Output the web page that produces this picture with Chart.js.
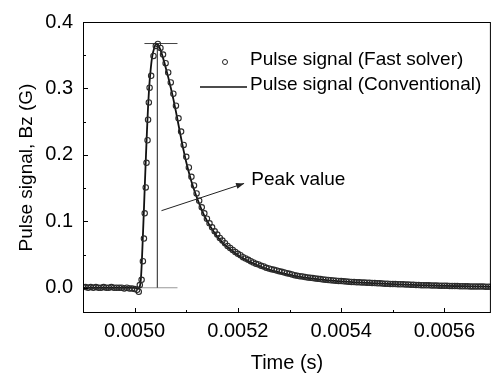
<!DOCTYPE html>
<html>
<head>
<meta charset="utf-8">
<script src="https://cdn.jsdelivr.net/npm/chart.js@4"></script>
<style>
  html, body { margin: 0; padding: 0; background: #fff; }
  canvas { display: block; }
</style>
</head>
<body>
<canvas id="chart" width="496" height="376"></canvas>
<script>
// Pulse signal Bz vs time, fast solver (circles) vs conventional (line)
// times are in microseconds, the x axis labels show seconds

const fastUs = [
  4900, 4905, 4910, 4915, 4920, 4925, 4930, 4935, 4940, 4945,
  4950, 4955, 4960, 4965, 4970, 4975, 4980, 4985, 4990, 4995,
  5000, 5005,
  5008, 5010, 5013.5, 5016, 5018, 5019.5, 5021.5, 5023, 5025, 5026,
  5027.5, 5029, 5032, 5036.5, 5041,
  5045, 5050, 5055, 5060, 5065, 5070, 5075, 5080, 5085, 5090,
  5095, 5100, 5105, 5110, 5115, 5120, 5125, 5130, 5135, 5140,
  5145, 5150, 5155, 5160, 5165, 5170, 5175, 5180, 5185, 5190,
  5195, 5200, 5205, 5210, 5215, 5220, 5225, 5230, 5235, 5240,
  5245, 5250, 5255, 5260, 5265, 5270, 5275, 5280, 5285, 5290,
  5295, 5300, 5305, 5310, 5315, 5320, 5325, 5330, 5335, 5340,
  5345, 5350, 5355, 5360, 5365, 5370, 5375, 5380, 5385, 5390,
  5395, 5400, 5405, 5410, 5415, 5420, 5425, 5430, 5435, 5440,
  5445, 5450, 5455, 5460, 5465, 5470, 5475, 5480, 5485, 5490,
  5495, 5500, 5505, 5510, 5515, 5520, 5525, 5530, 5535, 5540,
  5545, 5550, 5555, 5560, 5565, 5570, 5575, 5580, 5585, 5590,
  5595, 5600, 5605, 5610, 5615, 5620, 5625, 5630, 5635, 5640,
  5645, 5650, 5655, 5660, 5665, 5670, 5675, 5680, 5685, 5690
];
const fastBz = [
  0.001, 0.001, 0.000, 0.001, 0.000, 0.001, 0.000, 0.000, 0.001, 0.000,
  0.000, 0.001, 0.000, 0.000, 0.000, 0.000, -0.001, 0.000, -0.001, -0.001,
  -0.002, -0.003,
  -0.006, 0.004, 0.012, 0.040, 0.074, 0.112, 0.151, 0.188, 0.222, 0.253,
  0.279, 0.301, 0.319, 0.349, 0.364,
  0.367, 0.361, 0.351, 0.338, 0.324, 0.309, 0.292, 0.274, 0.255, 0.235,
  0.215, 0.197, 0.181, 0.167, 0.154, 0.142, 0.131, 0.121, 0.112, 0.104,
  0.097, 0.091, 0.085, 0.080, 0.075, 0.071, 0.067, 0.063, 0.060, 0.057,
  0.054, 0.051, 0.049, 0.046, 0.044, 0.042, 0.040, 0.038, 0.036, 0.035,
  0.033, 0.032, 0.030, 0.029, 0.028, 0.027, 0.026, 0.025, 0.024, 0.023,
  0.022, 0.021, 0.020, 0.019, 0.018, 0.0175, 0.017, 0.016, 0.0155, 0.015,
  0.0145, 0.014, 0.0135, 0.013, 0.0125, 0.0121, 0.0117, 0.0113, 0.0109, 0.0106,
  0.0103, 0.0100, 0.0097, 0.0094, 0.0091, 0.0088, 0.0086, 0.0084, 0.0082, 0.0080,
  0.0078, 0.0076, 0.0074, 0.0072, 0.0070, 0.0068, 0.0066, 0.0064, 0.0062, 0.0060,
  0.0058, 0.0056, 0.0055, 0.0054, 0.0053, 0.0052, 0.0050, 0.0048, 0.0046, 0.0044,
  0.0042, 0.0040, 0.0039, 0.0038, 0.0037, 0.0036, 0.0035, 0.0034, 0.0033, 0.0032,
  0.0031, 0.0030, 0.0029, 0.0028, 0.0027, 0.0026, 0.0025, 0.0024, 0.0023, 0.0022,
  0.0021, 0.0020, 0.0020, 0.0019, 0.0018, 0.0018, 0.0017, 0.0016, 0.0016, 0.0015
];

const convUs = [
  4900, 5000, 5008, 5010, 5012, 5014, 5016, 5018, 5020, 5022,
  5024, 5026, 5028, 5031, 5034, 5038, 5042, 5045, 5050, 5055,
  5060, 5065, 5070, 5075, 5080, 5085, 5090, 5095, 5100, 5105,
  5110, 5115, 5120, 5130, 5140, 5150, 5160, 5170, 5180, 5200,
  5220, 5250, 5280, 5310, 5350, 5400, 5450, 5500, 5550, 5600,
  5650, 5690
];
const convBz = [
  0.000, 0.000, -0.001, 0.002, 0.012, 0.040, 0.078, 0.118, 0.160, 0.200,
  0.238, 0.272, 0.300, 0.328, 0.348, 0.361, 0.367, 0.366, 0.358, 0.346,
  0.332, 0.317, 0.301, 0.284, 0.265, 0.245, 0.225, 0.206, 0.189, 0.174,
  0.160, 0.148, 0.137, 0.117, 0.101, 0.088, 0.077, 0.068, 0.061, 0.049,
  0.040, 0.030, 0.023, 0.018, 0.0135, 0.0095, 0.0072, 0.0054, 0.0039, 0.0029,
  0.0021, 0.0015
];

// peak marker lines
const peakUs = [5044, 5044];
const peakBz = [0.0, 0.3676];
const peakTopUs = [5019, 5083];
const peakTopBz = [0.3676, 0.3676];
const peakBaseUs = [5010, 5083];
const peakBaseBz = [0.0, 0.0];

// axes
const xTicks = [5000, 5200, 5400, 5600];
const xMinorTicks = [4900, 5100, 5300, 5500];
const yTicks = [0.0, 0.1, 0.2, 0.3, 0.4];
const yMinorTicks = [0.05, 0.15, 0.25, 0.35];

const FONT = "'Liberation Sans', Arial, sans-serif";

function pairs(xs, ys) {
  return xs.map((t, i) => ({ x: t, y: ys[i] }));
}

// frame, inward ticks, arrow note and in-plot legend
const decorPlugin = {
  id: 'decor',
  afterDraw(chart) {
    const { ctx, chartArea: a, scales: { x, y } } = chart;
    ctx.save();
    ctx.strokeStyle = '#000';
    ctx.lineWidth = 1;
    ctx.strokeRect(a.left + 0.5, a.top + 0.5, a.right - a.left - 1, a.bottom - a.top - 1);

    ctx.beginPath();
    xTicks.forEach(v => {
      const px = Math.round(x.getPixelForValue(v)) + 0.5;
      ctx.moveTo(px, a.bottom); ctx.lineTo(px, a.bottom - 5);
    });
    xMinorTicks.forEach(v => {
      const px = Math.round(x.getPixelForValue(v)) + 0.5;
      ctx.moveTo(px, a.bottom); ctx.lineTo(px, a.bottom - 3);
    });
    yTicks.forEach(v => {
      const py = Math.round(y.getPixelForValue(v)) + 0.5;
      ctx.moveTo(a.left, py); ctx.lineTo(a.left + 5, py);
    });
    yMinorTicks.forEach(v => {
      const py = Math.round(y.getPixelForValue(v)) + 0.5;
      ctx.moveTo(a.left, py); ctx.lineTo(a.left + 3, py);
    });
    ctx.stroke();

    // "Peak value" arrow
    const x0 = x.getPixelForValue(5052), y0 = y.getPixelForValue(0.116);
    const x1 = x.getPixelForValue(5212), y1 = y.getPixelForValue(0.157);
    ctx.strokeStyle = '#222';
    ctx.beginPath();
    ctx.moveTo(x0, y0); ctx.lineTo(x1, y1);
    ctx.stroke();
    const ang = Math.atan2(y1 - y0, x1 - x0);
    ctx.fillStyle = '#222';
    ctx.beginPath();
    ctx.moveTo(x1, y1);
    ctx.lineTo(x1 - 8 * Math.cos(ang) + 3 * Math.sin(ang), y1 - 8 * Math.sin(ang) - 3 * Math.cos(ang));
    ctx.lineTo(x1 - 8 * Math.cos(ang) - 3 * Math.sin(ang), y1 - 8 * Math.sin(ang) + 3 * Math.cos(ang));
    ctx.closePath();
    ctx.fill();
    ctx.fillStyle = '#000';
    ctx.font = '19px ' + FONT;
    ctx.textBaseline = 'middle';
    ctx.textAlign = 'left';
    ctx.fillText('Peak value', x.getPixelForValue(5226), y.getPixelForValue(0.163));

    // legend
    const ds = chart.data.datasets;
    const lx = a.left + 117, ly = a.top + 40;
    ctx.strokeStyle = '#222';
    ctx.lineWidth = 1;
    ctx.beginPath();
    ctx.arc(lx + 25, ly, 2.5, 0, Math.PI * 2);
    ctx.stroke();
    ctx.fillText(ds[0].label, lx + 50, ly - 2);
    ctx.strokeStyle = '#111';
    ctx.lineWidth = 1.6;
    ctx.beginPath();
    ctx.moveTo(lx, ly + 25); ctx.lineTo(lx + 47, ly + 25);
    ctx.stroke();
    ctx.fillText(ds[1].label, lx + 50, ly + 23);
    ctx.restore();
  }
};

new Chart(document.getElementById('chart').getContext('2d'), {
  type: 'line',
  data: {
    datasets: [
      {
        label: 'Pulse signal (Fast solver)',
        data: pairs(fastUs, fastBz),
        showLine: false,
        pointRadius: 2.7,
        pointBorderWidth: 1.1,
        pointBorderColor: '#2a2a2a',
        pointBackgroundColor: 'rgba(0,0,0,0)',
        order: 0
      },
      {
        label: 'Pulse signal (Conventional)',
        data: pairs(convUs, convBz),
        borderColor: '#111',
        borderWidth: 1.8,
        pointRadius: 0,
        cubicInterpolationMode: 'monotone',
        order: 1
      },
      {
        label: 'peak',
        data: pairs(peakUs, peakBz),
        borderColor: '#444',
        borderWidth: 1.2,
        pointRadius: 0,
        order: 2
      },
      {
        label: 'peakTop',
        data: pairs(peakTopUs, peakTopBz),
        borderColor: '#444',
        borderWidth: 1,
        pointRadius: 0,
        order: 2
      },
      {
        label: 'peakBase',
        data: pairs(peakBaseUs, peakBaseBz),
        borderColor: '#999',
        borderWidth: 1,
        pointRadius: 0,
        order: 2
      }
    ]
  },
  options: {
    responsive: false,
    animation: false,
    devicePixelRatio: 1,
    layout: { padding: { top: 15, right: 3, left: 0, bottom: 0 } },
    plugins: { legend: { display: false }, tooltip: { enabled: false } },
    scales: {
      x: {
        type: 'linear',
        min: 4900,
        max: 5690,
        grid: { display: false, drawTicks: false },
        border: { display: false },
        afterBuildTicks: s => { s.ticks = xTicks.map(v => ({ value: v })); },
        afterFit: s => { s.height = 63; },
        ticks: {
          padding: 6,
          color: '#000',
          font: { family: FONT, size: 20 },
          maxRotation: 0,
          callback: v => (v / 1e6).toFixed(4)
        },
        title: {
          display: true,
          text: 'Time (s)',
          color: '#000',
          font: { family: FONT, size: 20 },
          padding: { top: 0, bottom: 1 }
        }
      },
      y: {
        type: 'linear',
        min: -0.038,
        max: 0.4,
        grid: { display: false, drawTicks: false },
        border: { display: false },
        afterBuildTicks: s => { s.ticks = yTicks.map(v => ({ value: v })); },
        afterFit: s => { s.width = 83; },
        ticks: {
          padding: 10,
          color: '#000',
          font: { family: FONT, size: 20 },
          callback: v => v.toFixed(1)
        },
        title: {
          display: true,
          text: 'Pulse signal, Bz (G)',
          color: '#000',
          font: { family: FONT, size: 19 },
          padding: { top: 15, bottom: 0 }
        }
      }
    }
  },
  plugins: [decorPlugin]
});
</script>
</body>
</html>
